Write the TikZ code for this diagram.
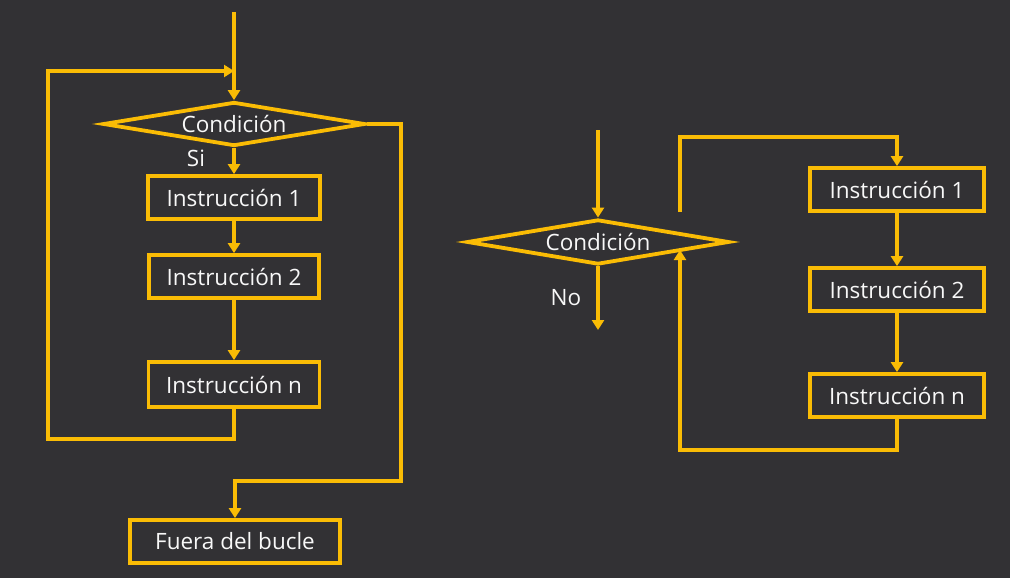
\documentclass[tikz,border=0pt]{standalone}
\usepackage{fontspec}
\setmainfont{Open Sans}
\usetikzlibrary{shapes.geometric,arrows.meta}
\definecolor{board}{RGB}{50,49,52}
\definecolor{chalkyel}{RGB}{250,188,5}
\definecolor{chalkwht}{RGB}{248,248,248}
\tikzset{
  flow/.style={draw=chalkyel,line width=3.8pt},
  arr/.style={flow,-{Triangle[width=12pt,length=10pt]}},
  txt/.style={text=chalkwht,font=\fontsize{22.5}{26}\selectfont},
  box/.style={draw=chalkyel,line width=3.8pt,minimum height=43pt,inner sep=0pt,txt},
  cond/.style={diamond,draw=chalkyel,line width=3.8pt,minimum width=262pt,minimum height=44pt,
    aspect=6,inner sep=0pt,txt},
  lbl/.style={txt,inner sep=0pt}
}
\begin{document}
\begin{tikzpicture}[x=1pt,y=-1pt,line join=miter]
\fill[board] (0,0) rectangle (1010,578);
\useasboundingbox (0,0) rectangle (1010,578);
% ---------- left diagram ----------
\coordinate (top) at (234,12);
\node[cond] (c1) at (234,124) {Condición};
\node[box,minimum width=172pt] (a1) at (234,197.5) {Instrucción 1};
\node[box,minimum width=170pt] (a2) at (234,276.5) {Instrucción 2};
\node[box,minimum width=171pt,minimum height=45pt] (an) at (234,384.5) {Instrucción n};
\node[box,minimum width=210pt] (out) at (235,541.5) {Fuera del bucle};
\node[lbl] (si) at (196,158) {Si};
\coordinate (lb) at (48,439);
\coordinate (lj) at (234,71);
\coordinate (r1) at (401,481);
\draw[arr] (top) -- (c1.north);
\draw[arr] (c1.south) -- (a1.north);
\draw[arr] (a1) -- (a2);
\draw[arr] (a2) -- (an);
\draw[arr] (an.south) |- (lb) |- (lj);
\draw[arr] (c1.east) -| (r1) -| (out.north);
% ---------- right diagram ----------
\coordinate (top2) at (598,130);
\node[cond,minimum height=45pt] (c2) at (598,242) {Condición};
\node[box,minimum width=174pt] (b1) at (897,189.5) {Instrucción 1};
\node[box,minimum width=174pt] (b2) at (897,289.5) {Instrucción 2};
\node[box,minimum width=174pt] (bn) at (897,395.5) {Instrucción n};
\node[lbl] (no) at (566,298) {No};
\coordinate (noend) at (598,330);
\coordinate (s) at (680,212);
\coordinate (rt) at (897,137);
\coordinate (rb) at (680,450);
\coordinate (re) at (680,250);
\draw[arr] (top2) -- (c2.north);
\draw[arr] (c2.south) -- (noend);
\draw[arr] (s) |- (rt) -- (b1.north);
\draw[arr] (b1) -- (b2);
\draw[arr] (b2) -- (bn);
\draw[arr] (bn.south) |- (rb) -- (re);
\end{tikzpicture}
\end{document}
